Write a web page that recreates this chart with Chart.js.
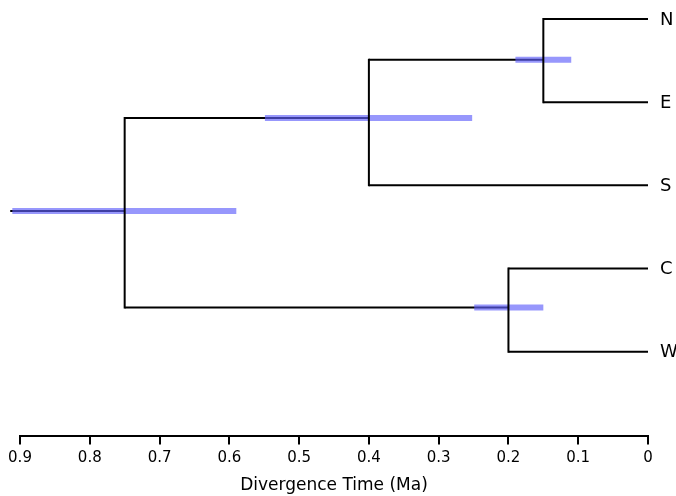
<!DOCTYPE html>
<html>
<head>
<meta charset="utf-8">
<script src="https://cdn.jsdelivr.net/npm/chart.js@4/dist/chart.umd.min.js"></script>
<style>
  html, body { margin: 0; padding: 0; background: #fff; }
  #wrap { width: 676px; height: 496px; }
</style>
</head>
<body>
<div id="wrap"><canvas id="tree"></canvas></div>
<script>
// tips, top to bottom
const tipNames = ['N', 'E', 'S', 'C', 'W'];
const tipRows = [0, 1, 2, 3, 4];

// internal nodes: age (Ma), row, 95% HPD interval
const nodeNames = ['NE', 'NES', 'CW', 'root'];
const nodeAges = [0.15, 0.40, 0.20, 0.75];
const nodeRows = [0.49, 1.19, 3.47, 2.31];
const hpdLow = [0.11, 0.252, 0.15, 0.59];
const hpdHigh = [0.19, 0.549, 0.249, 0.911];
const rootStemAge = 0.914;

// parent -> children
const edges = [
  ['root', 'NES'], ['root', 'CW'],
  ['NES', 'NE'], ['NES', 'S'],
  ['NE', 'N'], ['NE', 'E'],
  ['CW', 'C'], ['CW', 'W']
];

const xTicks = [0.9, 0.8, 0.7, 0.6, 0.5, 0.4, 0.3, 0.2, 0.1, 0];

function info(name) {
  let i = nodeNames.indexOf(name);
  if (i >= 0) return { age: nodeAges[i], row: nodeRows[i] };
  i = tipNames.indexOf(name);
  return { age: 0, row: tipRows[i] };
}

// horizontal branches
const horiz = [];
edges.forEach(([p, c]) => {
  const a = info(p), b = info(c);
  horiz.push({ x: a.age, y: b.row }, { x: b.age, y: b.row }, { x: b.age, y: null });
});
const r = info('root');
horiz.push({ x: rootStemAge, y: r.row }, { x: r.age, y: r.row }, { x: r.age, y: null });

// vertical connectors
const vert = [];
nodeNames.forEach(n => {
  const a = info(n);
  const rows = edges.filter(e => e[0] === n).map(e => info(e[1]).row);
  vert.push({ x: a.age, y: Math.min(...rows) }, { x: a.age, y: Math.max(...rows) }, { x: a.age, y: null });
});

// HPD bars
const hpd = [];
nodeNames.forEach((n, i) => {
  hpd.push({ x: hpdHigh[i], y: nodeRows[i] }, { x: hpdLow[i], y: nodeRows[i] }, { x: hpdLow[i], y: null });
});

const tipLabels = {
  id: 'tipLabels',
  afterDatasetsDraw(chart) {
    const { ctx, scales } = chart;
    ctx.save();
    ctx.fillStyle = '#000';
    ctx.font = '18px "DejaVu Sans"';
    ctx.textBaseline = 'middle';
    tipNames.forEach((t, i) => {
      ctx.fillText(t, scales.x.getPixelForValue(0) + 12, scales.y.getPixelForValue(tipRows[i]) + 1);
    });
    ctx.restore();
  }
};

const lineBase = { pointRadius: 0, spanGaps: false, tension: 0, clip: false, fill: false };

new Chart(document.getElementById('tree'), {
  type: 'line',
  data: {
    datasets: [
      Object.assign({ label: 'vertical', data: vert, borderColor: '#000', borderWidth: 2, borderCapStyle: 'square' }, lineBase),
      Object.assign({ label: 'HPD', data: hpd, borderColor: 'rgba(95,95,250,0.65)', borderWidth: 6 }, lineBase),
      Object.assign({ label: 'branches', data: horiz, borderColor: '#000', borderWidth: 2 }, lineBase)
    ]
  },
  options: {
    responsive: true,
    maintainAspectRatio: false,
    animation: false,
    layout: { padding: { left: 20, right: 28, top: 0, bottom: 0 } },
    plugins: { legend: { display: false }, tooltip: { enabled: false } },
    scales: {
      x: {
        type: 'linear',
        reverse: true,
        min: 0,
        max: 0.9,
        border: { display: true, color: '#000', width: 2 },
        grid: { display: true, drawOnChartArea: false, drawTicks: true, tickLength: 9, color: '#000', lineWidth: 2 },
        afterBuildTicks(scale) { scale.ticks = xTicks.map(v => ({ value: v })); },
        ticks: {
          color: '#000',
          padding: 5,
          maxRotation: 0,
          font: { family: 'DejaVu Sans', size: 15 },
          callback: v => v === 0 ? '0' : v.toFixed(1)
        },
        title: {
          display: true,
          text: 'Divergence Time (Ma)',
          color: '#000',
          padding: { top: 3, bottom: 0 },
          font: { family: 'DejaVu Sans', size: 17 }
        }
      },
      y: {
        type: 'linear',
        display: false,
        reverse: true,
        min: -0.228,
        max: 5.009
      }
    }
  },
  plugins: [tipLabels]
});
</script>
</body>
</html>
